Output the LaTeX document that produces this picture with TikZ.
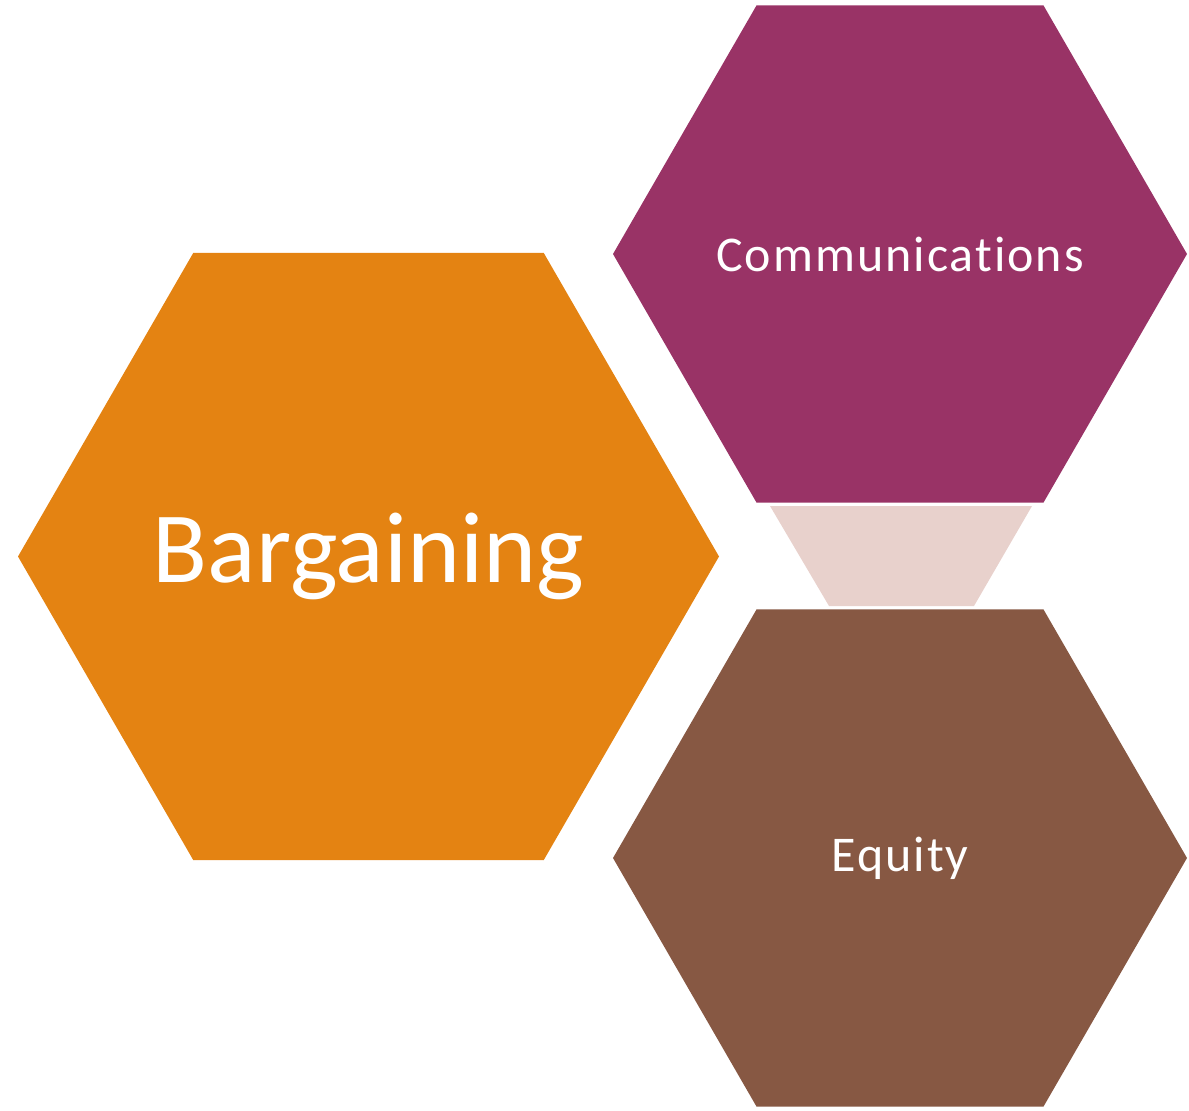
\documentclass[tikz,border=0pt]{standalone}
\usepackage{fontspec}
\setmainfont{Carlito}[Ligatures=NoCommon]
\usetikzlibrary{shapes.geometric}
\definecolor{hexorange}{HTML}{E48312}
\definecolor{hexplum}{HTML}{993366}
\definecolor{hexbrown}{HTML}{875843}
\definecolor{linkpink}{HTML}{E8D1CC}
\newcommand{\px}{1pt}

\begin{document}
\begin{tikzpicture}[x=\px,y=-\px]
\useasboundingbox (0,0) rectangle (1189,1111);
\tikzstyle{hexa}=[regular polygon,
			regular polygon sides=6,
			inner sep=0pt,
			outer sep=0pt,
			text=white
			]
\tikzstyle{label}=[text=white, inner sep=0pt]

\node[hexa, fill=hexorange, minimum size=701pt] (barg) at (368.5,556.5) {};
\node[hexa, fill=hexplum, minimum size=574pt] (comm) at (900,254) {};
\node[hexa, fill=hexbrown, minimum size=574pt] (equi) at (900,858) {};

\fill[linkpink] (770,506) -- (1032,506) -- (974,606) -- (829,606) -- cycle;

\node[label, font=\fontsize{101}{110}\selectfont] (bargtxt) at (barg.center) {Bargaining};
\node[label, font=\fontsize{50}{60}\selectfont\addfontfeature{LetterSpace=4}] (commtxt) at (comm.center) {Communications};
\node[label, font=\fontsize{50}{60}\selectfont\addfontfeature{LetterSpace=4}] (equitxt) at (equi.center) {Equity};

\end{tikzpicture}
\end{document}
